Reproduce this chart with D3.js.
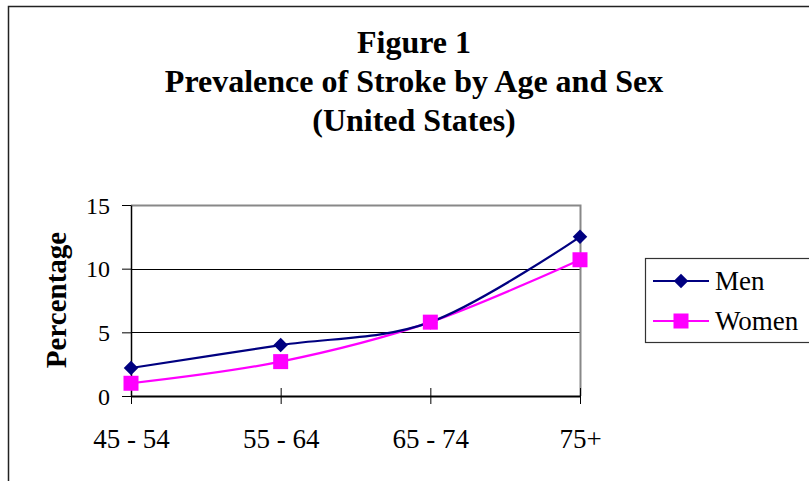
<!DOCTYPE html>
<html>
<head>
<meta charset="utf-8">
<script src="https://cdn.jsdelivr.net/npm/d3@7"></script>
<style>
  html, body { margin: 0; padding: 0; background: #fff; }
  svg { display: block; }
  svg text { font-family: "Liberation Serif", "Times New Roman", serif !important; }
</style>
</head>
<body>
<svg id="chart" width="809" height="481"></svg>
<script>
// Stroke prevalence (%) by age group and sex
const ageGroups = ["45 - 54", "55 - 64", "65 - 74", "75+"];
const menValues = [2.2, 4.0, 5.8, 12.5];
const womenValues = [1.0, 2.7, 5.8, 10.7];
const yTicks = [0, 5, 10, 15];
const titleLines = ["Figure 1", "Prevalence of Stroke by Age and Sex", "(United States)"];

const series = [
  { name: "Men", values: menValues, color: "#000080", marker: "diamond" },
  { name: "Women", values: womenValues, color: "#FF00FF", marker: "square" }
];

const svg = d3.select("#chart");

// outer chart frame (runs past the right and bottom edges)
svg.append("rect")
  .attr("x", 8.5).attr("y", 6.5)
  .attr("width", 840).attr("height", 520)
  .attr("fill", "#fff").attr("stroke", "#222").attr("stroke-width", 1.5);

// title
svg.append("g").selectAll("text")
  .data(titleLines)
  .join("text")
  .attr("x", 414)
  .attr("y", (d, i) => 53 + i * 39)
  .attr("text-anchor", "middle")
  .attr("font-weight", "bold")
  .attr("font-size", 32)
  .attr("fill", "#000")
  .text(d => d);

const plot = { left: 131, right: 580, top: 205, bottom: 396 };

const x = d3.scalePoint().domain(ageGroups).range([plot.left, plot.right]);
const y = d3.scaleLinear().domain([0, 15]).range([plot.bottom, plot.top]);

// horizontal gridlines
svg.append("g").selectAll("line")
  .data(yTicks.filter(t => t > 0 && t < 15))
  .join("line")
  .attr("x1", plot.left).attr("x2", plot.right)
  .attr("y1", d => Math.round(y(d)) + 0.5).attr("y2", d => Math.round(y(d)) + 0.5)
  .attr("stroke", "#000").attr("stroke-width", 1);

// plot area border, top and right in grey
svg.append("path")
  .attr("d", `M${plot.left},${plot.top + 0.5}H${plot.right + 0.5}V${plot.bottom}`)
  .attr("fill", "none").attr("stroke", "#888").attr("stroke-width", 2);

// y axis
const yAxis = svg.append("g")
  .attr("transform", `translate(${plot.left},0)`)
  .call(d3.axisLeft(y).tickValues(yTicks).tickSize(9).tickPadding(12).tickSizeOuter(0));
yAxis.select(".domain").attr("stroke", "#000").attr("stroke-width", 1.5);
yAxis.selectAll(".tick line").attr("stroke", "#000");
yAxis.selectAll(".tick text")
  .attr("font-size", 24).attr("fill", "#000").attr("dy", "0.34em");

// x axis with ticks crossing the line
const xAxis = svg.append("g")
  .attr("transform", `translate(0,${plot.bottom})`)
  .call(d3.axisBottom(x).tickSize(8).tickPadding(25).tickSizeOuter(0));
xAxis.select(".domain").attr("stroke", "#000").attr("stroke-width", 2);
xAxis.selectAll(".tick line").attr("y1", -8).attr("stroke", "#000");
xAxis.selectAll(".tick text")
  .attr("font-size", 27).attr("fill", "#000");

// y axis title
svg.append("text")
  .attr("transform", "translate(66,300) rotate(-90)")
  .attr("text-anchor", "middle")
  .attr("font-weight", "bold")
  .attr("font-size", 29)
  .attr("fill", "#000")
  .text("Percentage");

const line = d3.line()
  .x((d, i) => x(ageGroups[i]))
  .y(d => y(d))
  .curve(d3.curveCatmullRom.alpha(0));

function drawMarker(g, s, cx, cy) {
  if (s.marker === "diamond") {
    g.append("path")
      .attr("transform", `translate(${cx},${cy}) rotate(45)`)
      .attr("d", d3.symbol().type(d3.symbolSquare).size(105)())
      .attr("fill", s.color);
  } else {
    g.append("rect")
      .attr("x", cx - 7.5).attr("y", cy - 7.5)
      .attr("width", 15).attr("height", 15)
      .attr("fill", s.color);
  }
}

// lines, women first so men sit on top where they overlap
const seriesG = svg.append("g");
[...series].reverse().forEach(s => {
  seriesG.append("path")
    .datum(s.values)
    .attr("d", line)
    .attr("fill", "none")
    .attr("stroke", s.color)
    .attr("stroke-width", 2.2);
});
series.forEach(s => {
  const g = seriesG.append("g");
  s.values.forEach((v, i) => drawMarker(g, s, x(ageGroups[i]), y(v)));
});

// legend
const legend = svg.append("g");
legend.append("rect")
  .attr("x", 645.5).attr("y", 258.5)
  .attr("width", 200).attr("height", 84)
  .attr("fill", "#fff").attr("stroke", "#333").attr("stroke-width", 1.2);
series.forEach((s, i) => {
  const cy = 281 + i * 40;
  const g = legend.append("g");
  g.append("line")
    .attr("x1", 653).attr("x2", 709)
    .attr("y1", cy).attr("y2", cy)
    .attr("stroke", s.color).attr("stroke-width", 2.2);
  drawMarker(g, s, 681, cy);
  g.append("text")
    .attr("x", 715).attr("y", cy + 9)
    .attr("font-size", 27)
    .attr("fill", "#000")
    .text(s.name);
});
</script>
</body>
</html>
